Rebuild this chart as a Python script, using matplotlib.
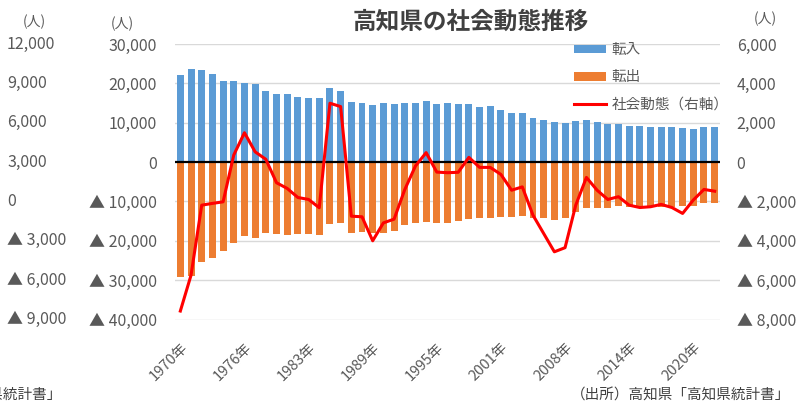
import matplotlib
matplotlib.use("Agg")
import matplotlib.pyplot as plt
import matplotlib.transforms as mtransforms
from matplotlib.patches import Patch
from matplotlib.lines import Line2D
from matplotlib.ticker import FixedLocator, FuncFormatter

plt.rcParams['font.family'] = ['Noto Sans CJK JP', 'DejaVu Sans']

years = list(range(1970, 1977)) + list(range(1978, 2002)) + list(range(2003, 2023))
labels = [f"{y}年" for y in years]

tennyu = [22100, 23600, 23300, 22300, 20700, 20700, 20200, 19900, 18100, 17300,
          17200, 16500, 16200, 16200, 18900, 18100, 15200, 14900, 14600, 14900,
          14700, 14900, 15100, 15400, 14700, 14900, 14700, 14700, 13900, 14300,
          13300, 12500, 12500, 11200, 10700, 10200, 10000, 10400, 10700, 10100,
          9700, 9700, 9200, 9200, 8800, 8800, 8800, 8600, 8300, 8800, 8800]
tenshutsu = [-29300, -28900, -25500, -24500, -22700, -20500, -18800, -19400, -18000, -18400,
             -18600, -18400, -18200, -18600, -15800, -15400, -17900, -17700, -18000, -17900,
             -17600, -16000, -15400, -15100, -15400, -15600, -15000, -14500, -14300, -14200,
             -13900, -13900, -13700, -14100, -14100, -14800, -14300, -12600, -11600, -11600,
             -11600, -11200, -11300, -11300, -11400, -11300, -11300, -11200, -11200, -10300, -10300]
shakai = [-7570, -5750, -2190, -2100, -2020, 360, 1490, 520, 140, -1050,
          -1340, -1800, -1900, -2320, 2990, 2820, -2750, -2780, -4000, -3090,
          -2900, -1400, -200, 480, -510, -540, -520, 240, -270, -270,
          -630, -1430, -1260, -2700, -3630, -4560, -4350, -2190, -780, -1430,
          -1900, -1760, -2190, -2310, -2270, -2150, -2310, -2610, -1930, -1390, -1480]

left_ticks = [30000, 20000, 10000, 0, -10000, -20000, -30000, -40000]
right_ticks = [6000, 4000, 2000, 0, -2000, -4000, -6000, -8000]
ghost_ticks = [12000, 9000, 6000, 3000, 0, -3000, -6000, -9000]
label_idx = [0, 6, 12, 18, 24, 30, 36, 42, 48]

BLUE = '#5b9bd5'
ORANGE = '#ed7d31'
RED = '#ff0000'
GRAY = '#595959'
GRID = '#d9d9d9'

def fmt(v, pos=None):
    v = int(round(v))
    if v < 0:
        return f"▲ {abs(v):,}"
    return f"{v:,}"

W, H = 801, 405
fig = plt.figure(figsize=(W / 100, H / 100), dpi=100)
ax = fig.add_axes([175 / W, 1 - 319.5 / H, (720 - 175) / W, (319.5 - 44) / H])

x = list(range(len(years)))
ax.bar(x, tennyu, width=0.65, color=BLUE, zorder=2)
ax.bar(x, tenshutsu, width=0.65, color=ORANGE, zorder=2)
ax.set_ylim(-40000, 30000)
ax.set_xlim(-0.5, len(years) - 0.5)
ax.yaxis.set_major_locator(FixedLocator(left_ticks))
ax.yaxis.set_major_formatter(FuncFormatter(fmt))
for t in left_ticks:
    if t != 0:
        ax.axhline(t, color=GRID, lw=1.0, zorder=0)
ax.axhline(0, color='black', lw=1.6, zorder=3)
ax.set_xticks([x[i] for i in label_idx])
ax.set_xticklabels([labels[i] for i in label_idx], rotation=45, ha='right', va='top',
                   rotation_mode='anchor', fontsize=10.5, color=GRAY)
ax.tick_params(axis='x', length=0, pad=15)
ax.tick_params(axis='y', length=0, pad=13, labelsize=11.5, labelcolor=GRAY)
for s in ax.spines.values():
    s.set_visible(False)

ax2 = ax.twinx()
ax2.plot(x, shakai, color=RED, lw=2.2, zorder=4)
ax2.set_ylim(-8000, 6000)
ax2.yaxis.set_major_locator(FixedLocator(right_ticks))
ax2.yaxis.set_major_formatter(FuncFormatter(fmt))
ax2.tick_params(axis='y', length=0, pad=12, labelsize=11.5, labelcolor=GRAY)
for s in ax2.spines.values():
    s.set_visible(False)

# leftover axis labels at the far left
ax3 = ax.twinx()
ax3.set_ylim(-9000, 12000)
ax3.set_yticks([])
for s in ax3.spines.values():
    s.set_visible(False)
tr = mtransforms.blended_transform_factory(fig.transFigure, ax3.transData)
for v in ghost_ticks:
    ax3.text(7 / W, v, fmt(v), transform=tr, ha='left', va='center',
             fontsize=11.5, color=GRAY, clip_on=False)

fig.text(471 / W, 1 - 22 / H, '高知県の社会動態推移', ha='center', va='center',
         fontsize=17, fontweight='bold', color='#404040')
fig.text(34 / W, 1 - 22 / H, '(人)', ha='center', va='center', fontsize=10, color=GRAY)
fig.text(122 / W, 1 - 24 / H, '(人)', ha='center', va='center', fontsize=10, color=GRAY)
fig.text(765 / W, 1 - 19 / H, '(人)', ha='center', va='center', fontsize=10, color=GRAY)

handles = [Patch(facecolor=BLUE), Patch(facecolor=ORANGE), Line2D([], [], color=RED, lw=2.2)]
fig.legend(handles, ['転入', '転出', '社会動態（右軸）'], loc='upper left',
           bbox_to_anchor=(564 / W, 1 - 33 / H), frameon=False, fontsize=10.5,
           labelcolor=GRAY, handlelength=2.2, handleheight=0.55, handletextpad=0.35,
           labelspacing=0.9, borderpad=0.2)

fig.text(790 / W, 1 - 396 / H, '（出所）高知県「高知県統計書」', ha='right', va='center',
         fontsize=10.5, color='#404040')
fig.text(62 / W, 1 - 396 / H, '（出所）高知県「高知県統計書」', ha='right', va='center',
         fontsize=10.5, color='#404040')

fig.savefig('out.png', dpi=100)
